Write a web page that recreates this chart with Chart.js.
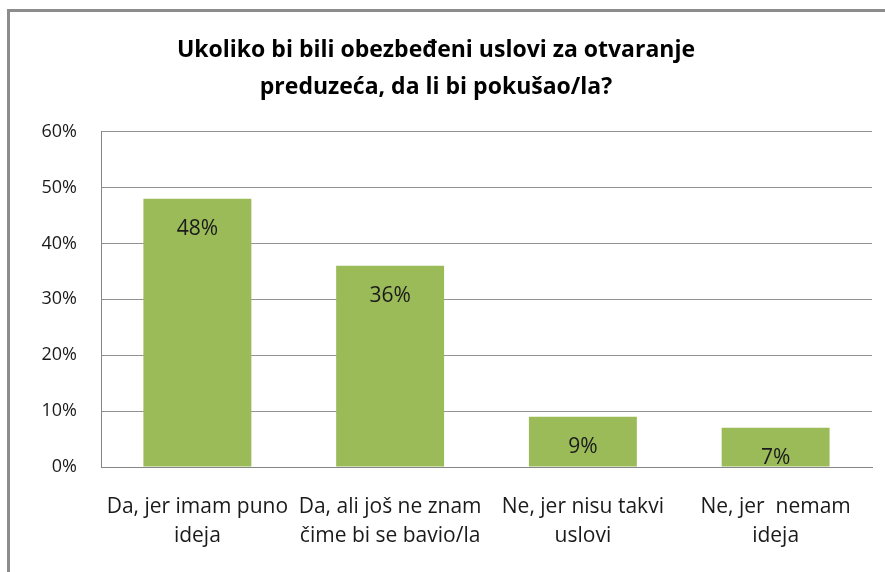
<!DOCTYPE html>
<html>
<head>
<meta charset="utf-8">
<script src="https://cdn.jsdelivr.net/npm/chart.js@4/dist/chart.umd.min.js"></script>
<style>
html,body{margin:0;padding:0;background:#fff;}
#wrap{position:relative;width:885px;height:572px;}
</style>
</head>
<body>
<div id="wrap"><canvas id="c" width="885" height="572"></canvas></div>
<script>
const titleLines = ["Ukoliko bi bili obezbeđeni uslovi za otvaranje", "preduzeća, da li bi pokušao/la?"];
const categories = [
  ["Da, jer imam puno", "ideja"],
  ["Da, ali još ne znam", "čime bi se bavio/la"],
  ["Ne, jer nisu takvi", "uslovi"],
  ["Ne, jer  nemam", "ideja"]
];
const values = [48, 36, 9, 7];
const yMin = 0, yMax = 60, yStep = 10;

const FONT = "'Open Sans', 'Liberation Sans', sans-serif";

const borderPlugin = {
  id: 'frame',
  beforeDraw(chart) {
    const ctx = chart.ctx;
    ctx.save();
    ctx.fillStyle = '#ffffff';
    ctx.fillRect(0, 0, chart.width, chart.height);
    ctx.strokeStyle = '#8c8c8c';
    ctx.lineWidth = 3;
    ctx.beginPath();
    ctx.moveTo(8.5, chart.height);
    ctx.lineTo(8.5, 10.5);
    ctx.lineTo(chart.width, 10.5);
    ctx.stroke();
    ctx.restore();
  }
};

const labelPlugin = {
  id: 'barLabels',
  afterDatasetsDraw(chart) {
    const ctx = chart.ctx;
    const meta = chart.getDatasetMeta(0);
    ctx.save();
    ctx.font = "21px " + FONT;
    ctx.fillStyle = '#1a1a1a';
    ctx.textAlign = 'center';
    ctx.textBaseline = 'middle';
    meta.data.forEach((bar, i) => {
      ctx.fillText(values[i] + '%', bar.x, bar.y + 30);
    });
    ctx.restore();
  }
};

new Chart(document.getElementById('c'), {
  type: 'bar',
  data: {
    labels: categories,
    datasets: [{
      data: values,
      backgroundColor: '#9bbb59',
      borderWidth: 0,
      barPercentage: 0.56,
      categoryPercentage: 1.0
    }]
  },
  options: {
    responsive: false,
    animation: false,
    layout: { padding: { left: 0, right: 13, top: 0, bottom: 0 } },
    plugins: {
      legend: { display: false },
      tooltip: { enabled: false },
      title: {
        display: true,
        text: titleLines,
        color: '#000000',
        font: { family: FONT, size: 23, weight: 'bold', lineHeight: 1.6 },
        padding: { top: 32, bottom: 26 }
      }
    },
    scales: {
      x: {
        grid: { display: false, drawTicks: false },
        border: { display: true, color: '#868686', width: 1 },
        ticks: {
          color: '#1a1a1a',
          font: { family: FONT, size: 21, lineHeight: 1.4 },
          padding: 25,
          autoSkip: false,
          maxRotation: 0,
          minRotation: 0
        },
        afterFit(scale) { scale.height = 105; }
      },
      y: {
        min: yMin, max: yMax,
        grid: { color: '#929292', lineWidth: 1, drawTicks: false },
        border: { display: true, color: '#868686', width: 1 },
        ticks: {
          stepSize: yStep,
          color: '#1a1a1a',
          font: { family: FONT, size: 18 },
          padding: 24,
          callback: (v) => v + '%'
        },
        afterFit(scale) { scale.width = 101; }
      }
    }
  },
  plugins: [borderPlugin, labelPlugin]
});
</script>
</body>
</html>
